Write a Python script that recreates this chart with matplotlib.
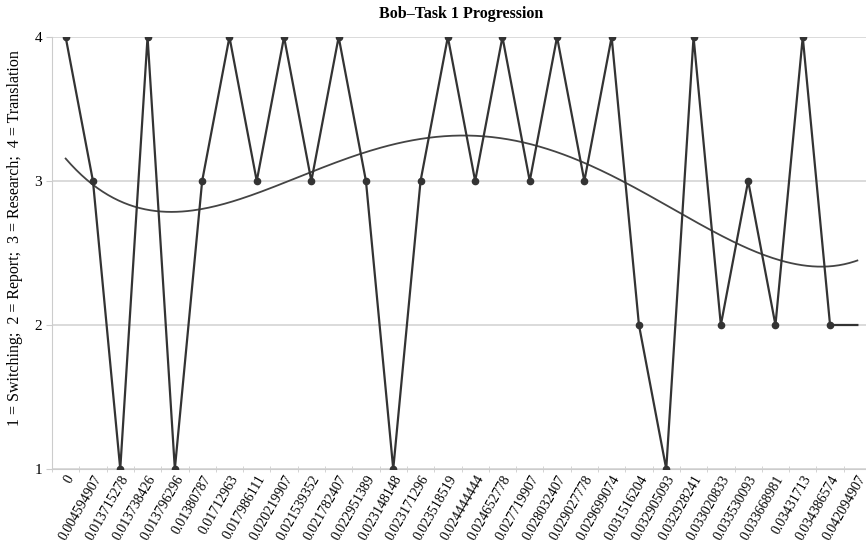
import numpy as np
import matplotlib.pyplot as plt

# Time stamps (category labels) and task codes for each step
times = ["0", "0.004594907", "0.013715278", "0.013738426", "0.013796296",
         "0.01380787", "0.01712963", "0.017986111", "0.020219907", "0.021539352",
         "0.021782407", "0.022951389", "0.023148148", "0.023171296", "0.023518519",
         "0.024444444", "0.024652778", "0.027719907", "0.028032407", "0.029027778",
         "0.029699074", "0.031516204", "0.032905093", "0.032928241", "0.033020833",
         "0.033530093", "0.033668981", "0.03431713", "0.034386574", "0.042094907"]
task = [4, 3, 1, 4, 1, 3, 4, 3, 4, 3, 4, 3, 1, 3, 4, 3, 4, 3, 4, 3, 4, 2, 1, 4, 2, 3, 2, 4, 2, 2]

plt.rcParams['font.family'] = ['Liberation Serif', 'DejaVu Serif']

fig = plt.figure(figsize=(8.66, 5.43), dpi=100)
W, H = 866, 543
ax = fig.add_axes([52 / W, 1 - 469 / H, (871 - 52) / W, (469 - 37) / H])

x = np.arange(len(task))
ax.plot(x, task, color="#333333", lw=1.6, marker="o", ms=4.5,
        markevery=list(range(len(task) - 1)), zorder=3)

# polynomial trendline (as in the spreadsheet)
coef = np.polyfit(x + 1, task, 4)
xs = np.linspace(0, len(task) - 1, 300)
ax.plot(xs, np.polyval(coef, xs + 1), color="#444444", lw=1.3, zorder=2)

ax.set_xlim(-0.5, len(task) - 0.5)
ax.set_ylim(1, 4)
ax.set_yticks([1, 2, 3, 4])
ax.yaxis.grid(True, color="#d4d4d4", lw=1.2)
ax.set_axisbelow(True)

ax.set_xticks(x)
ax.set_xticklabels(times, rotation=60, ha="right", va="top",
                   rotation_mode="anchor", fontsize=10)
ax.set_xticks(np.arange(-0.5, len(task), 1), minor=True)
ax.tick_params(axis="x", which="major", length=0, pad=3)
ax.tick_params(axis="x", which="minor", length=4, color="#cccccc", direction="inout")
ax.tick_params(axis="y", length=4, color="#cccccc", labelsize=11, pad=3)

for s in ["top", "right"]:
    ax.spines[s].set_visible(False)
ax.spines["left"].set_color("#cccccc")
ax.spines["bottom"].set_color("#cccccc")

ax.set_title("Bob\u2013Task 1 Progression", fontsize=11.5, fontweight="bold", pad=14)
fig.text(15 / W, 1 - 238 / H,
         "1 = Switching;  2 = Report;  3 = Research;  4 = Translation",
         rotation=90, ha="center", va="center", fontsize=11.5)

fig.savefig("out.png", dpi=100)
